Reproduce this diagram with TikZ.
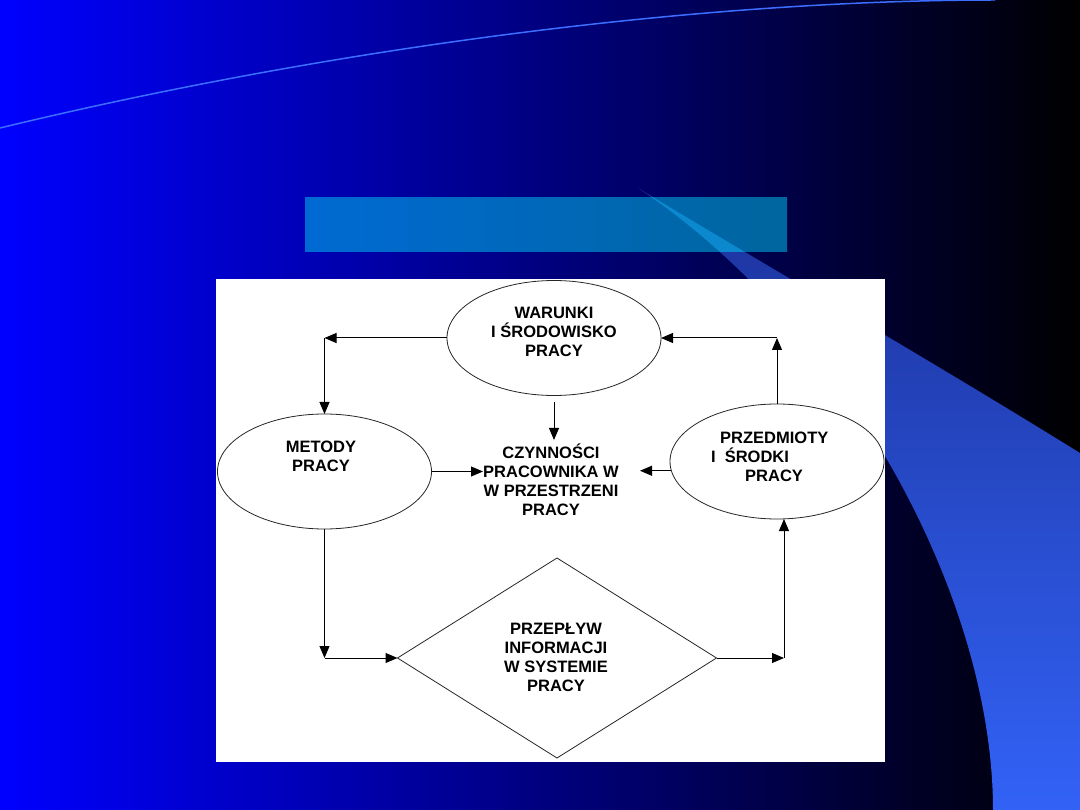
\documentclass[tikz,border=0pt]{standalone}
\usepackage{fontspec}
\setmainfont{Liberation Sans}
\usetikzlibrary{shapes.geometric,arrows.meta}
\definecolor{bgblue}{RGB}{0,0,255}
\definecolor{swoosh}{RGB}{60,110,255}
\definecolor{wedgetop}{RGB}{28,50,155}
\definecolor{wedgemid}{RGB}{44,86,222}
\definecolor{wedgebot}{RGB}{50,98,246}
\definecolor{barleft}{RGB}{0,106,212}
\definecolor{barright}{RGB}{0,102,158}
\definecolor{barwedge}{RGB}{12,136,206}
\tikzset{
  shapeline/.style={draw=black!85, line width=0.8pt},
  oval/.style={shapeline, ellipse, inner sep=0pt, outer sep=0pt, minimum width=214pt, minimum height=115pt},
  rhomb/.style={shapeline, diamond, inner sep=0pt, outer sep=0pt, minimum width=319pt, minimum height=200pt},
  txt/.style={font=\fontsize{16.5}{19}\selectfont\bfseries, text=black, inner sep=0pt, align=center},
  conn/.style={draw=black, line width=1pt},
  arr/.style={conn, -{Triangle[length=12pt,width=10pt]}},
}
\begin{document}
\begin{tikzpicture}[x=1pt,y=-1pt]
\useasboundingbox (0,0) rectangle (1080,810);
% background
\shade[left color=bgblue, right color=black] (0,0) rectangle (1080,810);
% thin swoosh
\draw[swoosh, line width=1.5pt] (0,128) .. controls (330,48) and (700,0) .. (995,0);
% big wedge
\def\wedgepath{(638,188) .. controls (760,262) and (930,360) .. (1080,453) -- (1080,810) -- (993,810) .. controls (993,600) and (850,330) .. (638,188) -- cycle}
\shade[top color=wedgetop, middle color=wedgemid, bottom color=wedgebot] \wedgepath;
% title bar
\shade[left color=barleft, right color=barright] (305,198) rectangle (787,252);
\begin{scope}
  \clip (305,198) rectangle (787,252);
  \fill[barwedge] \wedgepath;
\end{scope}
% white panel
\fill[white] (216,279) rectangle (885,762);
% shapes
\node[oval] (W) at (554,338) {};
\node[oval] (M) at (324.5,471.5) {};
\node[oval] (P) at (777,461.5) {};
\node[rhomb] (D) at (557,658) {};
% texts
\node[txt] (tW) at (554,332) {WARUNKI\\I ŚRODOWISKO\\PRACY};
\node[txt] (tM) at (321,456) {METODY\\PRACY};
\node[txt] (tC) at (551,479.5) {CZYNNOŚCI\\PRACOWNIKA W\\W PRZESTRZENI\\PRACY};
\node[txt, align=left, anchor=west] (tP) at (711,456.5) {\hspace*{9pt}PRZEDMIOTY\\I\hspace*{9pt}ŚRODKI\\\hspace*{34pt}PRACY};
\node[txt] (tD) at (556,657.5) {PRZEPŁYW\\INFORMACJI\\W SYSTEMIE\\PRACY};
% helper coordinates
\coordinate (czTop) at (554,440);
\coordinate (czL) at (483,471);
\coordinate (czR) at (640,471);
\coordinate (c7) at (784,658);
% connectors
\draw[arr] (W.west) -- (W.west -| M.north);
\draw[arr] (W.west -| M.north) -- (M.north);
\draw[arr, shorten <=7pt] (W.south) -- (W.south |- czTop);
\draw[arr] (M.east) -- (M.east -| czL);
\draw[arr] (P.185) -- (P.185 -| czR);
\draw[arr] (P.north) -- (P.north |- W.east);
\draw[arr] (P.north |- W.east) -- (W.east);
\draw[arr] (M.south) -- (M.south |- D.west);
\draw[arr] (M.south |- D.west) -- (D.west);
\draw[arr] (D.east) -- (c7);
\draw[arr] (c7) -- (c7 |- P.south);
\end{tikzpicture}
\end{document}
